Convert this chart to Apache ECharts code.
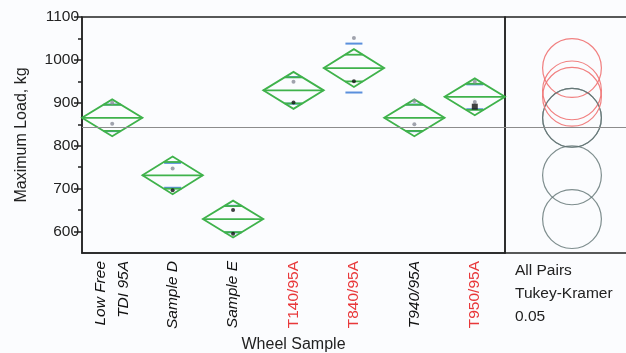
<!DOCTYPE html>
<html><head><meta charset="utf-8">
<script src="https://cdn.jsdelivr.net/npm/echarts@6/dist/echarts.min.js"></script>
<style>html,body{margin:0;padding:0;background:#fbfcfe}#c{width:626px;height:353px}</style>
</head><body><div id="c"></div>
<script>
// Groups on the x axis and their summary statistics (kg)
const categories = ['Low Free\nTDI 95A', 'Sample D', 'Sample E', 'T140/95A', 'T840/95A', 'T940/95A', 'T950/95A'];
const highlighted = [false, false, false, true, true, false, true];
const means = [865, 731, 629, 929, 981, 865, 914];
const ciHalf = [43, 44, 43, 43, 44, 43, 43];
const stdDev = [31, 29, 31, 31, 57, 31, 29];
// Individual observations: [group index, load]
const pointsGrey = [[0, 900], [0, 851], [1, 747], [3, 949], [4, 1051], [5, 904], [5, 850], [6, 949], [6, 902]];
const pointsBlack = [[1, 696], [2, 650], [2, 595], [3, 901], [4, 950]];
const pointsBlackLarge = [[6, 891]];
const grandMean = 844;
const circleRadius = 68.5;          // Tukey-Kramer comparison circle radius
const yTicks = [600, 700, 800, 900, 1000, 1100];
const yMinorTicks = [650, 750, 850, 950, 1050];
const panelText = ['All Pairs', 'Tukey-Kramer', '0.05'];

const FONT = "'Liberation Sans', Arial, sans-serif";
const GREEN = '#3fb24b', BLUE = '#5a8fdc', RED = '#e8383a';

const chart = echarts.init(document.getElementById('c'));

function renderDiamond(params, api) {
  const i = api.value(0), m = api.value(1), ci = api.value(2), sd = api.value(3);
  const c = api.coord([i, m]);
  const cx = c[0], cy = c[1];
  const half = api.size([1, 0])[0] / 2;
  const yTop = api.coord([i, m + ci])[1], yBot = api.coord([i, m - ci])[1];
  const ov = ci / Math.SQRT2;
  const yOvT = api.coord([i, m + ov])[1], yOvB = api.coord([i, m - ov])[1];
  const ovHalf = half * (1 - 1 / Math.SQRT2);
  const ySdT = api.coord([i, m + sd])[1], ySdB = api.coord([i, m - sd])[1];
  const sdHalf = 8.5;
  const green = { stroke: GREEN, lineWidth: 1.8, fill: null };
  const line = (x1, y1, x2, y2, style) => ({ type: 'line', shape: { x1, y1, x2, y2 }, style });
  return {
    type: 'group',
    children: [
      line(cx - sdHalf, ySdT, cx + sdHalf, ySdT, { stroke: BLUE, lineWidth: 2 }),
      line(cx - sdHalf, ySdB, cx + sdHalf, ySdB, { stroke: BLUE, lineWidth: 2 }),
      { type: 'polygon', shape: { points: [[cx - half, cy], [cx, yTop], [cx + half, cy], [cx, yBot]] }, style: green },
      line(cx - half, cy, cx + half, cy, green),
      line(cx - ovHalf, yOvT, cx + ovHalf, yOvT, green),
      line(cx - ovHalf, yOvB, cx + ovHalf, yOvB, green)
    ]
  };
}

function renderCircle(params, api) {
  const c = api.coord([api.value(0), api.value(1)]);
  const r = api.size([0, api.value(2)])[1];
  const hi = api.value(3) === 1;
  return {
    type: 'circle',
    shape: { cx: c[0], cy: c[1], r },
    style: { fill: null, stroke: hi ? '#f07272' : '#5f7272', lineWidth: 1.2, opacity: hi ? 0.9 : 0.8 }
  };
}

const meanLine = {
  silent: true, symbol: 'none', label: { show: false },
  lineStyle: { color: '#8c8c8c', width: 1.2, type: 'solid' },
  data: [{ yAxis: grandMean }]
};

const option = {
  backgroundColor: '#fbfcfe',
  animation: false,
  grid: [
    { left: 82, top: 17, width: 423, height: 236, outerBoundsMode: 'none', containLabel: false,
      show: true, borderColor: '#222', borderWidth: 1.5, backgroundColor: 'transparent' },
    { left: 505, top: 17, width: 134, height: 236, outerBoundsMode: 'none', containLabel: false,
      show: true, borderColor: '#222', borderWidth: 1.5, backgroundColor: 'transparent' }
  ],
  xAxis: [
    {
      type: 'category', gridIndex: 0, data: categories, boundaryGap: true,
      name: 'Wheel Sample', nameLocation: 'middle', nameGap: 84,
      nameTextStyle: { fontFamily: FONT, fontSize: 16, color: '#222' },
      axisLine: { lineStyle: { color: '#222', width: 1.5 } },
      axisTick: { length: 7, lineStyle: { color: '#222', width: 1.5 } },
      axisLabel: {
        rotate: 90, margin: 8, interval: 0, fontFamily: FONT, fontSize: 15.5, lineHeight: 23,
        formatter: (v, idx) => v.split('\n').map(s => (highlighted[idx] ? '{r|' : '{i|') + s + '}').join('\n'),
        rich: {
          i: { fontFamily: FONT, fontSize: 15.5, fontStyle: 'italic', color: '#111', lineHeight: 23 },
          r: { fontFamily: FONT, fontSize: 15.5, color: RED, lineHeight: 23 }
        }
      },
      splitLine: { show: false }
    },
    { type: 'value', gridIndex: 1, min: 0, max: 1, show: false }
  ],
  yAxis: [
    {
      type: 'value', gridIndex: 0, min: 550, max: 1100,
      name: 'Maximum Load, kg', nameLocation: 'middle', nameGap: 52,
      nameTextStyle: { fontFamily: FONT, fontSize: 16, color: '#222' },
      axisLine: { show: true, lineStyle: { color: '#222', width: 1.5 } },
      axisTick: { show: true, length: 8, customValues: yTicks, lineStyle: { color: '#222', width: 1.5 } },
      axisLabel: { customValues: yTicks, margin: 3, fontFamily: FONT, fontSize: 15.5, color: '#222', formatter: v => String(v) },
      splitLine: { show: false }
    },
    {
      type: 'value', gridIndex: 0, min: 550, max: 1100, position: 'left',
      axisLine: { show: false },
      axisTick: { show: true, length: 4, customValues: yMinorTicks, lineStyle: { color: '#222', width: 1.5 } },
      axisLabel: { show: false },
      splitLine: { show: false }
    },
    { type: 'value', gridIndex: 1, min: 550, max: 1100, show: false }
  ],
  graphic: panelText.map((t, k) => ({
    type: 'text', left: 515, top: 263 + k * 23,
    style: { text: t, fontFamily: FONT, fontSize: 15.5, fill: '#222' }
  })),
  series: [
    {
      type: 'custom', xAxisIndex: 0, yAxisIndex: 0, renderItem: renderDiamond,
      data: means.map((m, i) => [i, m, ciHalf[i], stdDev[i]]),
      markLine: meanLine, z: 2
    },
    {
      type: 'scatter', xAxisIndex: 0, yAxisIndex: 0, data: pointsGrey,
      symbolSize: 4, itemStyle: { color: '#8a8c99' }, z: 3
    },
    {
      type: 'scatter', xAxisIndex: 0, yAxisIndex: 0, data: pointsBlack,
      symbolSize: 4, itemStyle: { color: '#111' }, z: 3
    },
    {
      type: 'scatter', xAxisIndex: 0, yAxisIndex: 0, data: pointsBlackLarge, symbol: 'rect',
      symbolSize: 6, itemStyle: { color: '#111' }, z: 3
    },
    {
      type: 'custom', xAxisIndex: 1, yAxisIndex: 2, renderItem: renderCircle,
      data: means.map((m, i) => [0.5, m, circleRadius, highlighted[i] ? 1 : 0]),
      markLine: meanLine, z: 2
    }
  ]
};
chart.setOption(option);
</script>
</body></html>
